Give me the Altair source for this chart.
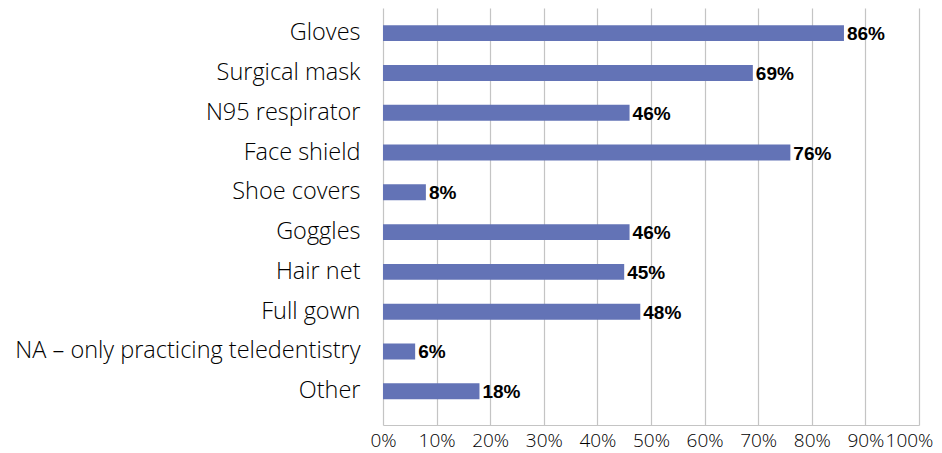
import altair as alt
import pandas as pd

categories = ["Gloves", "Surgical mask", "N95 respirator", "Face shield", "Shoe covers",
              "Goggles", "Hair net", "Full gown", "NA – only practicing teledentistry", "Other"]
values = [86, 69, 46, 76, 8, 46, 45, 48, 6, 18]
tick_values = [0, 10, 20, 30, 40, 50, 60, 70, 80, 90, 100]

df = pd.DataFrame({"cat": categories, "val": values})
df["label"] = df["val"].astype(str) + "%"

y = alt.Y("cat:N", sort=categories, title=None,
          scale=alt.Scale(paddingInner=0.6, paddingOuter=0.54, align=0.4),
          axis=alt.Axis(domain=False, ticks=False, labelPadding=23, labelFontSize=23.5,
                        labelFont="Open Sans", labelFontWeight=300, labelColor="#000000",
                        labelLimit=400))

x = alt.X("val:Q", title=None,
          scale=alt.Scale(domain=[0, 100], nice=False),
          axis=alt.Axis(values=tick_values, labelExpr="datum.value + '%'", ticks=False,
                        grid=True, gridColor="#c4c4c4", gridWidth=1.2,
                        domainColor="#c4c4c4", domainWidth=1.2,
                        labelFontSize=19, labelFont="Open Sans", labelFontWeight=300,
                        labelColor="#000000", labelPadding=6, labelFlush=False,
                        labelOffset={"condition": {"test": "datum.value == 100", "value": -10}, "value": 0}))

bars = alt.Chart(df).mark_bar(color="#6373b6").encode(x=x, y=y)
text = alt.Chart(df).mark_text(align="left", baseline="middle", dx=3, dy=1,
                               font="Liberation Sans", fontWeight="bold", fontSize=19,
                               color="#000000").encode(x="val:Q", y=alt.Y("cat:N", sort=categories), text="label:N")

chart = (bars + text).properties(
    width=536, height=417,
    autosize=alt.AutoSizeParams(type="none"),
    padding={"left": 375, "top": 0, "right": 15, "bottom": 28},
).configure_view(stroke=None)

chart.save("out.html", embed_options={"renderer": "svg", "actions": False})
